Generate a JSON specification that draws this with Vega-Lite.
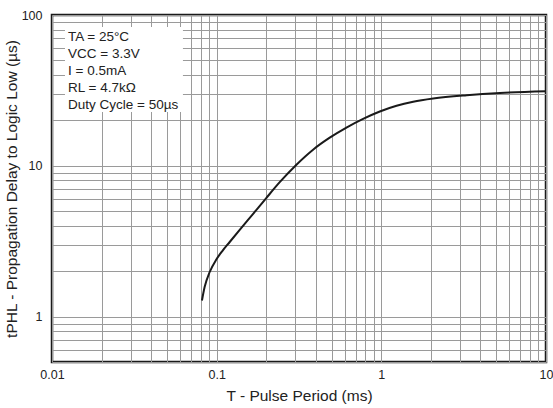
{
  "$schema": "https://vega.github.io/schema/vega-lite/v6.json",
  "width": 494,
  "height": 347,
  "autosize": {"type": "none"},
  "padding": {"left": 52, "top": 15, "right": 7, "bottom": 46},
  "background": "white",
  "config": {
    "font": "Liberation Sans",
    "view": {"stroke": "#1a1a1a", "strokeWidth": 2.5},
    "axis": {
      "ticks": false,
      "domain": false,
      "grid": true,
      "gridColor": "#9a9a9a",
      "gridWidth": 1,
      "labelColor": "#222",
      "titleColor": "#222",
      "titleFontWeight": "normal",
      "labelFontSize": 12.5,
      "titleFontSize": 15.5,
      "labelOverlap": false,
      "labelFlush": false
    }
  },
  "datasets": {
    "curve": [
      {"T": 0.0814, "t": 1.279},
      {"T": 0.0845, "t": 1.572},
      {"T": 0.0907, "t": 1.976},
      {"T": 0.0995, "t": 2.391},
      {"T": 0.1085, "t": 2.731},
      {"T": 0.12, "t": 3.124},
      {"T": 0.138, "t": 3.757},
      {"T": 0.166, "t": 4.783},
      {"T": 0.2006, "t": 6.135},
      {"T": 0.2415, "t": 7.785},
      {"T": 0.305, "t": 10.17},
      {"T": 0.385, "t": 12.79},
      {"T": 0.486, "t": 15.36},
      {"T": 0.614, "t": 17.92},
      {"T": 0.775, "t": 20.46},
      {"T": 0.979, "t": 22.91},
      {"T": 1.237, "t": 25.0},
      {"T": 1.561, "t": 26.57},
      {"T": 2.065, "t": 27.9},
      {"T": 3.296, "t": 29.35},
      {"T": 5.253, "t": 30.4},
      {"T": 10, "t": 31.23}
    ],
    "box": [{"x1": 0.01199, "x2": 0.0624, "y1": 83.2, "y2": 22.7}],
    "notes": [
      {"x": 0.01251, "y": 71.5, "text": "TA = 25°C"},
      {"x": 0.01251, "y": 55.1, "text": "VCC = 3.3V"},
      {"x": 0.01251, "y": 42.5, "text": "I = 0.5mA"},
      {"x": 0.01251, "y": 32.8, "text": "RL = 4.7kΩ"},
      {"x": 0.01251, "y": 25.3, "text": "Duty Cycle = 50µs"}
    ]
  },
  "layer": [
    {
      "data": {"name": "curve"},
      "mark": {"type": "line", "color": "#1a1a1a", "strokeWidth": 2, "interpolate": "monotone"},
      "encoding": {
        "x": {
          "field": "T", "type": "quantitative",
          "scale": {"type": "log", "domain": [0.01, 10], "nice": false},
          "axis": {
            "values": [0.01, 0.02, 0.03, 0.04, 0.05, 0.06, 0.07, 0.08, 0.09, 0.1, 0.2, 0.3, 0.4, 0.5, 0.6, 0.7, 0.8, 0.9, 1, 2, 3, 4, 5, 6, 7, 8, 9, 10],
            "format": "~g",
            "labelExpr": "indexof([0.01, 0.1, 1, 10], datum.value) >= 0 ? datum.label : ''",
            "labelPadding": 6,
            "title": "T - Pulse Period (ms)",
            "titlePadding": 8
          }
        },
        "y": {
          "field": "t", "type": "quantitative",
          "scale": {"type": "log", "domain": [0.5, 100], "nice": false},
          "axis": {
            "values": [0.5, 0.6, 0.7, 0.8, 0.9, 1, 2, 3, 4, 5, 6, 7, 8, 9, 10, 20, 30, 40, 50, 60, 70, 80, 90, 100],
            "format": "~g",
            "labelExpr": "indexof([1, 10, 100], datum.value) >= 0 ? datum.label : ''",
            "labelPadding": 10,
            "title": "tPHL - Propagation Delay to Logic Low (µs)",
            "titlePadding": 2
          }
        }
      }
    },
    {
      "data": {"name": "box"},
      "mark": {"type": "rect", "fill": "white"},
      "encoding": {
        "x": {"field": "x1", "type": "quantitative", "scale": {"type": "log", "domain": [0.01, 10], "nice": false}},
        "x2": {"field": "x2"},
        "y": {"field": "y1", "type": "quantitative", "scale": {"type": "log", "domain": [0.5, 100], "nice": false}},
        "y2": {"field": "y2"}
      }
    },
    {
      "data": {"name": "notes"},
      "mark": {"type": "text", "align": "left", "baseline": "middle", "fontSize": 13.5, "color": "#222"},
      "encoding": {
        "x": {"field": "x", "type": "quantitative", "scale": {"type": "log", "domain": [0.01, 10], "nice": false}},
        "y": {"field": "y", "type": "quantitative", "scale": {"type": "log", "domain": [0.5, 100], "nice": false}},
        "text": {"field": "text"}
      }
    }
  ]
}
